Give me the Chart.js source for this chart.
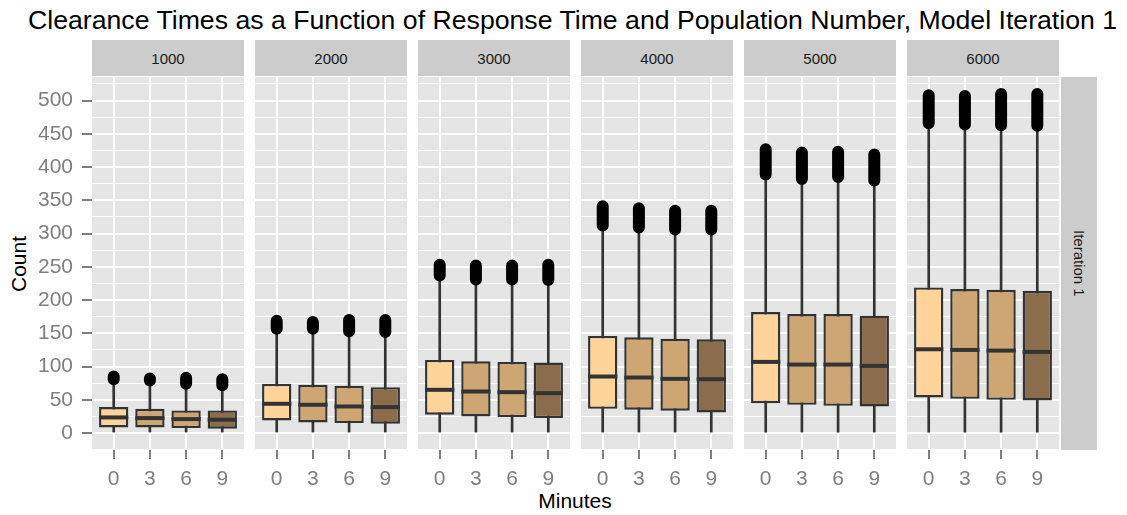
<!DOCTYPE html>
<html>
<head>
<meta charset="utf-8">
<script src="https://cdn.jsdelivr.net/npm/chart.js@4.4.1/dist/chart.umd.min.js"></script>
<style>
  body { margin: 0; background: #ffffff; font-family: "Liberation Sans", Arial, sans-serif; }
  #fig { position: relative; width: 1127px; height: 515px; overflow: hidden; background: #ffffff; }
  #fig canvas { position: absolute; }
  .title { position: absolute; left: 28px; top: 5px; font-size: 25.8px; color: #000; white-space: nowrap; }
  .strip { position: absolute; top: 40px; height: 36px; background: #cccccc; color: #1a1a1a; font-size: 15px; line-height: 37px; text-align: center; }
  .rstrip { position: absolute; left: 1061px; top: 77px; width: 36px; height: 373px; background: #cccccc; color: #1a1a1a; font-size: 15px;
            writing-mode: vertical-rl; text-align: center; line-height: 36px; }
  .ytitle { position: absolute; left: 6px; top: 77px; width: 26px; height: 373px; font-size: 21px; color: #000;
            writing-mode: vertical-rl; transform: rotate(180deg); text-align: center; line-height: 26px; }
  .xtitle { position: absolute; left: 475px; width: 200px; top: 489px; text-align: center; font-size: 21px; color: #000; }
</style>
</head>
<body>
<div id="fig">
  <div class="title" id="title">Clearance Times as a Function of Response Time and Population Number, Model Iteration 1</div>
  <div class="ytitle">Count</div>
  <div class="xtitle">Minutes</div>
  <div class="rstrip">Iteration 1</div>
</div>
<script>
// Facets (population number) and boxes within each facet (response time, minutes)
const populations = ['1000', '2000', '3000', '4000', '5000', '6000'];
const minutes = ['0', '3', '6', '9'];

// Count axis breaks
const yMajorTicks = [0, 50, 100, 150, 200, 250, 300, 350, 400, 450, 500];
const yMinorTicks = [-25, 25, 75, 125, 175, 225, 275, 325, 375, 425, 475, 525];

// Box-plot statistics, one row per population, one entry per response time
const whiskerLow = [
  [0, 0, 0, 0], [0, 0, 0, 0], [0, 0, 0, 0], [0, 0, 0, 0], [0, 0, 0, 0], [0, 0, 0, 0]
];
const q1 = [
  [8.5, 8.5, 7.5, 6.5], [19, 16, 15, 14], [27.5, 25, 24, 22.5],
  [36.5, 35, 33.5, 31], [45, 42.5, 41, 40], [53.5, 51.5, 50, 49]
];
const median = [
  [23.5, 22.5, 21, 20], [44, 42.5, 40, 39], [65, 62.5, 61.5, 60],
  [85, 83.5, 81.5, 81], [107, 103, 103, 101], [126, 125, 124, 122]
];
const q3 = [
  [39, 36.5, 34, 34], [74, 72.5, 71, 69], [110, 108, 107, 106],
  [146, 144, 142, 141], [182, 179, 179, 176.5], [219, 216.5, 215.5, 214]
];
const whiskerHigh = [
  [81, 79, 74, 72], [157, 157, 153, 152], [237, 231, 231, 230],
  [312, 309, 306, 306], [389, 382, 385, 380], [466, 464, 463, 462]
];
// Outliers run densely from the upper whisker up to this maximum
const outlierMax = [
  [85, 82, 83, 81], [169, 167, 170, 170], [253, 252, 252, 253],
  [341, 338, 334.5, 334.5], [427, 422, 423, 419], [508, 507, 510, 510]
];

const boxFills = ['#fed49a', '#cea674', '#cea674', '#8b6d4d'];
const FONT = '"Liberation Sans", Arial, sans-serif';
Chart.defaults.font.family = FONT;

// title spans from x=28 to x=1117
(function fitTitle() {
  const t = document.getElementById('title');
  const target = 1117 - 28;
  const w = t.getBoundingClientRect().width;
  if (w > 0) t.style.fontSize = (25.8 * target / w).toFixed(2) + 'px';
})();

// facet geometry
const PANEL_LEFT0 = 92, PANEL_STEP = 163, PANEL_W = 152;
const PANEL_TOP = 77, PANEL_H = 373, X_AXIS_H = 50, Y_AXIS_W = 92;

const fig = document.getElementById('fig');
const xPos = minutes.map((m, i) => i + 1);
const yAllTicks = yMinorTicks.concat(yMajorTicks).sort((a, b) => a - b);
const isMajor = v => yMajorTicks.indexOf(v) !== -1;

const panelBackground = {
  id: 'panelBackground',
  beforeDraw(chart) {
    const a = chart.chartArea, ctx = chart.ctx;
    ctx.save();
    ctx.fillStyle = '#e5e5e5';
    ctx.fillRect(a.left, a.top, a.right - a.left, a.bottom - a.top);
    ctx.restore();
  }
};

const medianLines = {
  id: 'medianLines',
  afterDatasetsDraw(chart, args, opts) {
    const meta = chart.getDatasetMeta(0);
    const y = chart.scales.y, ctx = chart.ctx;
    ctx.save();
    ctx.strokeStyle = '#333333';
    ctx.lineWidth = 4;
    meta.data.forEach((bar, i) => {
      const py = y.getPixelForValue(opts.values[i]);
      ctx.beginPath();
      ctx.moveTo(bar.x - bar.width / 2, py);
      ctx.lineTo(bar.x + bar.width / 2, py);
      ctx.stroke();
    });
    ctx.restore();
  }
};

populations.forEach((pop, p) => {
  const strip = document.createElement('div');
  strip.className = 'strip';
  strip.style.left = (PANEL_LEFT0 + p * PANEL_STEP) + 'px';
  strip.style.width = PANEL_W + 'px';
  strip.textContent = pop;
  fig.appendChild(strip);

  const first = p === 0;
  const canvas = document.createElement('canvas');
  const w = first ? Y_AXIS_W + PANEL_W : PANEL_W;
  canvas.width = w;
  canvas.height = PANEL_H + X_AXIS_H;
  canvas.style.left = (first ? 0 : PANEL_LEFT0 + p * PANEL_STEP) + 'px';
  canvas.style.top = PANEL_TOP + 'px';
  fig.appendChild(canvas);

  const outlierPts = [];
  xPos.forEach((x, i) => {
    outlierPts.push({ x, y: whiskerHigh[p][i] }, { x, y: outlierMax[p][i] }, { x, y: null });
  });

  new Chart(canvas, {
    data: {
      datasets: [
        {
          type: 'bar', label: 'box',
          data: xPos.map((x, i) => ({ x, y: [q1[p][i], q3[p][i]] })),
          backgroundColor: boxFills, borderColor: '#333333', borderWidth: 2.4,
          borderSkipped: false, barPercentage: 0.81, categoryPercentage: 1,
          grouped: false, order: 0
        },
        {
          type: 'line', label: 'outliers', data: outlierPts,
          borderColor: '#000000', borderWidth: 12, borderCapStyle: 'round',
          pointRadius: 0, spanGaps: false, order: 1
        },
        {
          type: 'bar', label: 'whiskers',
          data: xPos.map((x, i) => ({ x, y: [whiskerLow[p][i], whiskerHigh[p][i]] })),
          backgroundColor: '#333333', barThickness: 2, grouped: false, order: 2
        }
      ]
    },
    options: {
      responsive: false, animation: false, devicePixelRatio: 1,
      layout: { padding: 0, autoPadding: false },
      plugins: {
        legend: { display: false }, tooltip: { enabled: false },
        medianLines: { values: median[p] }
      },
      scales: {
        x: {
          type: 'linear', min: 0.4, max: 4.6, offset: false,
          afterBuildTicks: s => { s.ticks = xPos.map(v => ({ value: v })); },
          afterFit: s => { s.height = X_AXIS_H; s.paddingLeft = 0; s.paddingRight = 0; },
          ticks: {
            callback: (v, i) => minutes[i], color: '#7f7f7f', autoSkip: false,
            maxRotation: 0, padding: 8, font: { size: 21 }
          },
          grid: { offset: false, color: '#ffffff', lineWidth: 2, tickLength: 9, tickColor: '#7f7f7f', tickWidth: 2 },
          border: { display: false }
        },
        y: {
          type: 'linear', min: -25.5, max: 535.5,
          afterBuildTicks: s => { s.ticks = yAllTicks.map(v => ({ value: v })); },
          afterFit: s => { s.width = first ? Y_AXIS_W : 0; s.paddingTop = 0; s.paddingBottom = 0; },
          ticks: {
            display: first, autoSkip: false, color: '#7f7f7f', padding: 9, font: { size: 21 },
            callback: v => isMajor(v) ? String(v) : ''
          },
          grid: {
            color: '#ffffff',
            lineWidth: c => isMajor(c.tick.value) ? 2 : 1,
            drawTicks: first, tickLength: 10, tickWidth: 2,
            tickColor: c => isMajor(c.tick.value) ? '#7f7f7f' : 'rgba(0,0,0,0)'
          },
          border: { display: false }
        }
      }
    },
    plugins: [panelBackground, medianLines]
  });
});
</script>
</body>
</html>
